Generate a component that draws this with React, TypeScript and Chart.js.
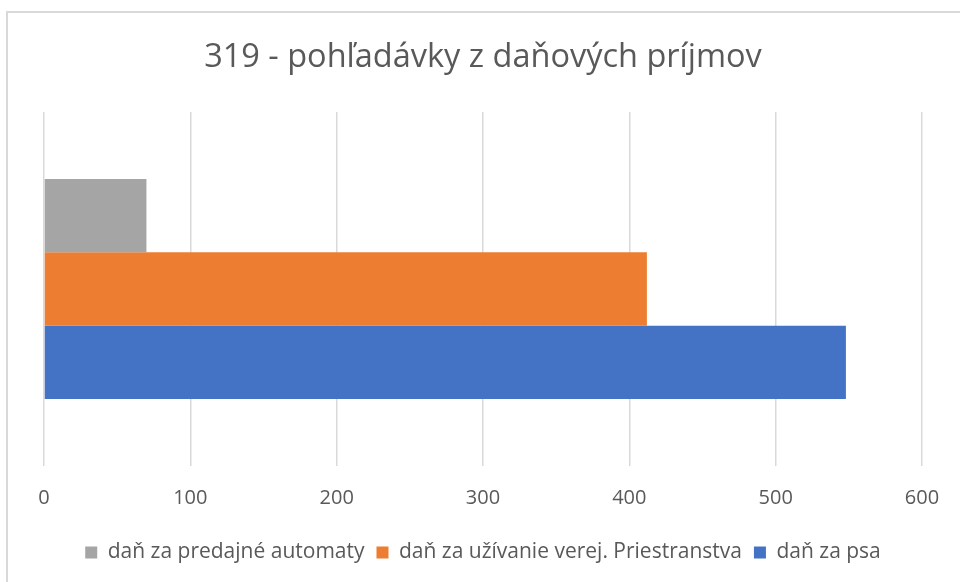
import React, { useEffect, useRef } from "react";
import { Chart, registerables } from "chart.js";

Chart.register(...registerables);

const categories = ["319"];
const seriesNames = [
  "daň za predajné automaty",
  "daň za užívanie verej. Priestranstva",
  "daň za psa",
];
const automatyValues = [70];
const priestranstvaValues = [412];
const psaValues = [548];
const seriesColors = ["#A5A5A5", "#ED7D31", "#4472C4"];
const xTicks = [0, 100, 200, 300, 400, 500, 600];
const titleText = "319 - pohľadávky z daňových príjmov";

export default function App() {
  const ref = useRef<HTMLCanvasElement | null>(null);

  useEffect(() => {
    if (!ref.current) return;
    const values = [automatyValues, priestranstvaValues, psaValues];
    const chart = new Chart(ref.current, {
      type: "bar",
      data: {
        labels: categories,
        datasets: seriesNames.map((name, i) => ({
          label: name,
          data: values[i],
          backgroundColor: seriesColors[i],
          borderWidth: 0,
          barPercentage: 1,
          categoryPercentage: 0.621,
        })),
      },
      options: {
        indexAxis: "y",
        responsive: false,
        animation: false,
        layout: { padding: { left: 44, right: 38, top: 0, bottom: 9 } },
        plugins: {
          title: {
            display: true,
            text: titleText,
            color: "#595959",
            font: { family: "Open Sans", size: 32.5, weight: "normal" },
            padding: { top: 38, bottom: 35 },
          },
          legend: {
            position: "bottom",
            labels: {
              color: "#595959",
              font: { family: "Open Sans", size: 21 },
              boxWidth: 12,
              boxHeight: 12,
              padding: 12,
            },
          },
          tooltip: { enabled: false },
        },
        scales: {
          x: {
            min: 0,
            max: 600,
            afterBuildTicks: (axis: any) => {
              axis.ticks = xTicks.map((v) => ({ value: v }));
            },
            grid: { color: "#D9D9D9", lineWidth: 1.5, drawTicks: false },
            border: { display: false },
            ticks: {
              color: "#595959",
              font: { family: "Open Sans", size: 20 },
              padding: 20,
            },
          },
          y: {
            display: false,
          },
        },
      },
    });
    return () => chart.destroy();
  }, []);

  return (
    <div style={{ position: "fixed", left: 0, top: 0, width: 960, height: 582, background: "#fff", overflow: "hidden" }}>
      <div
        style={{
          position: "absolute",
          left: 6,
          top: 11,
          width: 1000,
          height: 640,
          border: "2px solid #D9D9D9",
          boxSizing: "border-box",
        }}
      />
      <canvas ref={ref} width={960} height={582} style={{ position: "absolute", left: 0, top: 0 }} />
    </div>
  );
}
